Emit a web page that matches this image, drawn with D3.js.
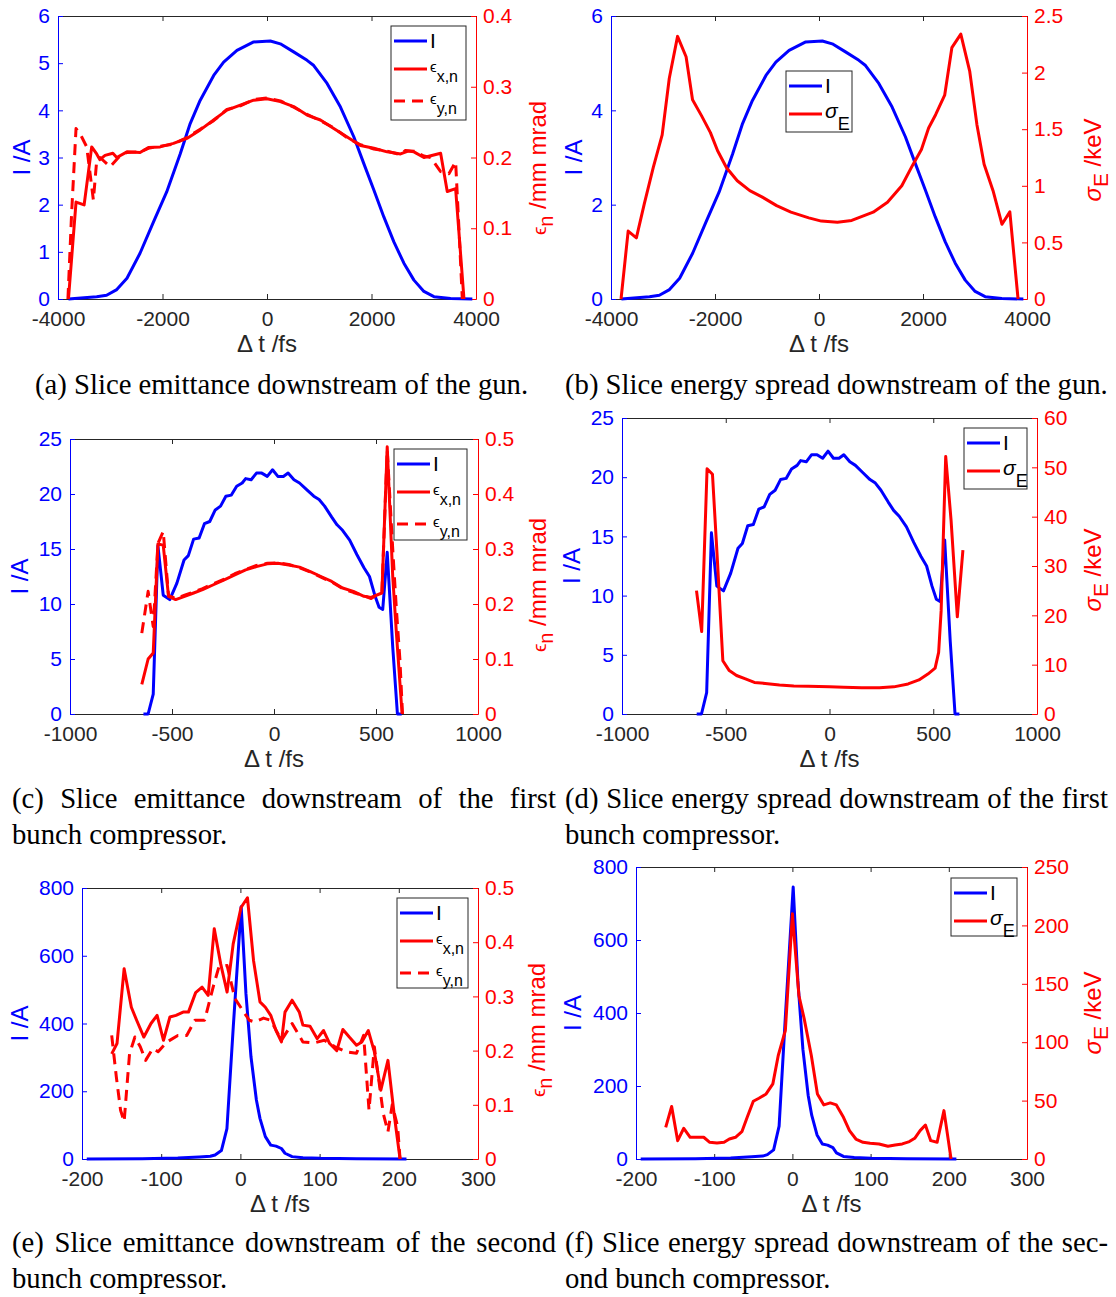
<!DOCTYPE html>
<html lang="en">
<head>
<meta charset="UTF-8">
<title>Slice emittance and energy spread</title>
<script src="https://cdn.jsdelivr.net/npm/d3@7"></script>
<style>
  body { margin: 0; background: #fff; }
  svg { display: block; }
  .ax text { font-family: "Liberation Sans", Arial, sans-serif; font-size: 21px; }
  .lab { font-family: "Liberation Sans", Arial, sans-serif; }
  .caption text { font-family: "Liberation Serif", "Times New Roman", serif; font-size: 28.7px; fill: #000; }
</style>
</head>
<body>
<svg width="1116" height="1297"></svg>
<script>
// ---- gun (panels a, b) ----
const gunT = [-3800,-3260,-3070,-2875,-2680,-2430,-2170,-1920,-1660,-1470,-1280,-1020,-830,-575,-255,64,255,510,767,895,1150,1406,1661,1853,2045,2236,2428,2620,2812,3003,3195,3514,3930];
const gunI = [0,0.05,0.08,0.2,0.44,0.97,1.64,2.27,3.08,3.72,4.21,4.74,5.02,5.27,5.45,5.47,5.41,5.24,5.06,4.95,4.57,4.07,3.44,2.87,2.31,1.74,1.21,0.76,0.4,0.16,0.05,0.01,0];

const gunEpsXT = [-3800,-3655,-3500,-3355,-3260,-3200,-3100,-2950,-2875,-2680,-2430,-2270,-2045,-1790,-1534,-1278,-1022,-767,-511,-256,0,256,511,767,1022,1278,1534,1789,2045,2300,2556,2700,2812,3003,3323,3450,3610,3770];
const gunEpsX  = [0,0.137,0.133,0.215,0.205,0.197,0.203,0.206,0.2,0.208,0.207,0.214,0.215,0.22,0.227,0.239,0.253,0.267,0.274,0.281,0.283,0.279,0.272,0.26,0.253,0.241,0.229,0.217,0.213,0.208,0.205,0.209,0.208,0.2,0.206,0.152,0.156,0];

const gunEpsYT = [-3810,-3740,-3655,-3546,-3450,-3323,-3259,-3195,-3003,-2843,-2684,-2430,-2270,-2045,-1790,-1534,-1278,-1022,-767,-511,-256,0,256,511,767,1022,1278,1534,1789,2045,2300,2556,2650,2812,3003,3131,3323,3482,3610,3680,3738];
const gunEpsY  = [0,0.12,0.241,0.229,0.215,0.14,0.196,0.2,0.187,0.2,0.207,0.208,0.213,0.216,0.219,0.228,0.24,0.252,0.268,0.273,0.282,0.284,0.28,0.271,0.261,0.252,0.242,0.228,0.218,0.212,0.209,0.204,0.21,0.209,0.202,0.2,0.18,0.177,0.194,0.09,0];

const gunSigT = [-3807,-3670,-3512,-3360,-3188,-3016,-2879,-2720,-2556,-2432,-2260,-2088,-1950,-1778,-1572,-1331,-1090,-815,-540,-196,45,354,629,1042,1317,1592,1798,1970,2108,2245,2417,2555,2727,2899,3037,3175,3347,3519,3670,3828];
const gunSig  = [0,0.6,0.54,0.84,1.16,1.45,1.95,2.32,2.14,1.76,1.62,1.47,1.31,1.16,1.045,0.957,0.9,0.825,0.767,0.717,0.688,0.679,0.694,0.767,0.855,1.0,1.18,1.32,1.51,1.63,1.8,2.22,2.34,2.01,1.54,1.19,0.957,0.66,0.77,0];

// ---- first bunch compressor (panels c, d) ----
const bc1T = [-640,-617,-592,-569,-543,-511,-476,-441,-420,-394,-367,-341,-315,-288,-262,-236,-209,-183,-156,-139,-112,-86,-60,-33,-7,19,46,69,98,125,160,195,221,248,283,309,336,371,406,441,468,494,515,533,555,582,605,626];
const bc1I = [0,0,1.8,15.3,10.8,10.4,11.9,14.0,14.4,15.9,16.0,17.3,17.5,18.55,18.9,19.8,19.9,20.7,21.0,21.4,21.3,21.9,21.9,21.6,22.2,21.6,21.6,21.9,21.3,21.0,20.4,19.8,19.5,18.9,17.9,17.2,16.7,15.8,14.5,13.3,12.5,10.8,9.7,9.5,14.7,6.1,0,0];

const bc1EpsXT = [-648,-617,-592,-569,-543,-517,-482,-438,-394,-350,-297,-244,-192,-139,-86,-33,19,72,125,178,230,283,336,389,441,476,529,555,582,600,628];
const bc1EpsX  = [0.054,0.10,0.111,0.309,0.307,0.214,0.208,0.214,0.22,0.226,0.235,0.244,0.253,0.262,0.268,0.273,0.274,0.271,0.267,0.259,0.25,0.241,0.229,0.223,0.214,0.212,0.22,0.486,0.25,0.147,0];

const bc1EpsYT = [-648,-617,-592,-569,-543,-517,-482,-438,-394,-350,-297,-244,-192,-139,-86,-33,19,72,125,178,230,283,336,389,441,476,529,555,582,600,617,630];
const bc1EpsY  = [0.147,0.223,0.159,0.31,0.332,0.215,0.21,0.216,0.222,0.228,0.237,0.245,0.255,0.263,0.27,0.274,0.275,0.272,0.266,0.258,0.249,0.24,0.228,0.221,0.215,0.21,0.222,0.48,0.3,0.19,0.1,0];

const bc1SigT = [-641,-616,-590,-564,-540,-514,-483,-448,-405,-362,-310,-241,-172,-103,0,69,155,241,310,379,431,474,509,526,538,560,586,616,643];
const bc1Sig  = [25,16.7,49.7,48.6,31,10.8,8.8,7.8,7.1,6.4,6.2,5.9,5.7,5.6,5.5,5.4,5.3,5.3,5.5,6.1,6.9,8.1,9.3,12.5,20.9,52.2,39.2,19.7,33.2];

// ---- second bunch compressor (panels e, f) ----
const bc2T = [-194,-124,-79,-52,-38,-32,-24,-17,-9,1,7,13.4,20.2,24.7,31.5,38.3,45,51.8,56.3,65.3,79,101,146.6,209.7];
const bc2I = [0,1,3,6,8,12,25,90,390,745,488,301,174,120,66,41,38,31,17,7,4,2,1,0];

const bc2EpsXT = [-162.5,-155.8,-146.8,-137.7,-131,-121.9,-112.9,-105.2,-97.1,-89,-81.3,-72.3,-65.6,-56.5,-48.4,-40.7,-33,-24.9,-16.8,-9.1,0.8,8.9,16.6,24.7,31.5,38.3,45,51.8,56.3,65.3,74.4,78.9,87.9,97,105,112.7,121.7,129.4,137.5,146.6,153.3,161.5,169.1,177.3,186.3,194,201.6];
const bc2EpsX  = [0.194,0.213,0.351,0.28,0.256,0.225,0.25,0.265,0.219,0.262,0.265,0.271,0.271,0.307,0.317,0.302,0.425,0.36,0.308,0.397,0.464,0.482,0.366,0.29,0.28,0.265,0.237,0.216,0.271,0.293,0.271,0.247,0.245,0.222,0.237,0.213,0.2,0.239,0.225,0.21,0.216,0.237,0.198,0.127,0.182,0.084,0];

const bc2EpsYT = [-162.5,-156.7,-151.3,-146.8,-140,-133.2,-126.4,-119.7,-110.6,-103.9,-92.6,-79,-67.8,-57.4,-45.2,-33.9,-27.2,-16.8,-6.9,11.2,18,29.2,38.3,51.8,65.3,78.9,92.4,106,119.5,133,146.6,155.6,162.4,169.1,180.4,186.3,191.7,198.5,201.6];
const bc2EpsY  = [0.228,0.152,0.09,0.069,0.194,0.225,0.207,0.182,0.204,0.198,0.216,0.228,0.228,0.256,0.256,0.32,0.354,0.357,0.296,0.256,0.253,0.26,0.256,0.219,0.25,0.216,0.214,0.219,0.207,0.198,0.195,0.228,0.09,0.207,0.084,0.05,0.1,0.06,0];

const bc2SigT = [-162,-154.4,-146.7,-138.9,-130.7,-121.6,-113.4,-105.7,-96.5,-87.4,-80.6,-72.8,-64.6,-57.8,-50,-42.8,-33.6,-25,-18.1,-9,0,8.3,15.1,24.2,32,40.2,48.4,56.2,65.3,73,81.2,90.3,99.4,110.8,122.2,131.4,140.5,149.6,156.4,163.3,170.1,176.9,185.1,193.8,202.9];
const bc2Sig  = [27,45,15.7,26.3,18.6,18.6,18.6,14.3,13.7,14.3,17.1,18.6,23.4,35.7,49.4,52,55.7,64.3,88.6,110,210,140,120,88.6,55.7,46.3,48,46.3,35.7,24.3,17.1,14.3,13.4,12.9,10.9,12,12.9,14.9,17.7,24.3,29.1,15.7,14.3,41.4,0];

// ---- tick labels ----
const ticksGunX = [-4000,-2000,0,2000,4000];
const ticksBc1X = [-1000,-500,0,500,1000];
const ticksBc2X = [-200,-100,0,100,200,300];
const ticksGunI = [0,1,2,3,4,5,6];
const ticksGunI2 = [0,2,4,6];
const ticksBc1I = [0,5,10,15,20,25];
const ticksBc2I = [0,200,400,600,800];
const ticksEps = [0,0.1,0.2,0.3,0.4,0.5];
const ticksEpsGun = [0,0.1,0.2,0.3,0.4];
const ticksSigGun = [0,0.5,1,1.5,2,2.5];
const ticksSigBc1 = [0,10,20,30,40,50,60];
const ticksSigBc2 = [0,50,100,150,200,250];

const captions = [
  { lines: ["(a) Slice emittance downstream of the gun."], x: 35, x2: null, y: 394 },
  { lines: ["(b) Slice energy spread downstream of the gun."], x: 565, x2: null, y: 394 },
  { lines: ["(c) Slice emittance downstream of the first", "bunch compressor."], x: 12, x2: 556, y: 808 },
  { lines: ["(d) Slice energy spread downstream of the first", "bunch compressor."], x: 565, x2: 1108, y: 808 },
  { lines: ["(e) Slice emittance downstream of the second", "bunch compressor."], x: 12, x2: 556, y: 1252 },
  { lines: ["(f) Slice energy spread downstream of the sec-", "ond bunch compressor."], x: 565, x2: 1108, y: 1252 }
];

const BLUE = "#0000ff", RED = "#ff0000", GRAY = "#262626";
const svg = d3.select("svg");

const zip = (t, v) => t.map((d, i) => [d, v[i]]);

// label pieces (text, size, shift, italic)
const labI = [["I /A", 24, 0]];
const labEps = [["\u03f5", 19, 0], ["n", 20, 7], [" /mm mrad", 24, -7]];
const labSig = [["\u03c3", 24, 0, true], ["E", 21, 7], [" /keV", 24, -7]];
const legI = [{ parts: [["I", 21, 7]], color: BLUE }];
const legEps = [
  { parts: [["\u03f5", 15, 3], ["x,n", 16, 10]], color: RED },
  { parts: [["\u03f5", 15, 3], ["y,n", 16, 10]], color: RED, dash: "11,7" }
];
const legSig = [{ parts: [["\u03c3", 21, 4, true], ["E", 18, 12]], color: RED }];

function addParts(text, parts) {
  parts.forEach(p => {
    text.append("tspan")
      .attr("font-size", p[1])
      .attr("dy", p[2])
      .attr("font-style", p[3] ? "italic" : null)
      .text(p[0]);
  });
}

const panels = [
  { box: [58, 16, 476, 299], xd: [-4000, 4000], xt: ticksGunX, yl: [0, 6], ylt: ticksGunI, yr: [0, 0.4], yrt: ticksEpsGun,
    left: [[gunT, gunI]], right: [[gunEpsXT, gunEpsX], [gunEpsYT, gunEpsY, "11,7"]], rlab: labEps,
    lx: 30, rx: 546, rcy: 168, leg: [391, 26, 75, 94], legItems: legI.concat(legEps) },
  { box: [611, 16, 1027, 299], xd: [-4000, 4000], xt: ticksGunX, yl: [0, 6], ylt: ticksGunI2, yr: [0, 2.5], yrt: ticksSigGun,
    left: [[gunT, gunI]], right: [[gunSigT, gunSig]], rlab: labSig,
    lx: 582, rx: 1101, rcy: 160, leg: [786, 71, 66, 61], legItems: legI.concat(legSig) },
  { box: [70, 439, 478, 714], xd: [-1000, 1000], xt: ticksBc1X, yl: [0, 25], ylt: ticksBc1I, yr: [0, 0.5], yrt: ticksEps,
    left: [[bc1T, bc1I]], right: [[bc1EpsXT, bc1EpsX], [bc1EpsYT, bc1EpsY, "11,7"]], rlab: labEps,
    lx: 28, rx: 546, rcy: 585, leg: [394, 449, 73, 91], legItems: legI.concat(legEps) },
  { box: [622, 418, 1037, 714], xd: [-1000, 1000], xt: ticksBc1X, yl: [0, 25], ylt: ticksBc1I, yr: [0, 60], yrt: ticksSigBc1,
    left: [[bc1T, bc1I]], right: [[bc1SigT, bc1Sig]], rlab: labSig,
    lx: 580, rx: 1101, rcy: 570, leg: [964, 428, 63, 61], legItems: legI.concat(legSig) },
  { box: [82, 888, 478, 1159], xd: [-200, 300], xt: ticksBc2X, yl: [0, 800], ylt: ticksBc2I, yr: [0, 0.5], yrt: ticksEps,
    left: [[bc2T, bc2I]], right: [[bc2EpsXT, bc2EpsX], [bc2EpsYT, bc2EpsY, "11,7"]], rlab: labEps,
    lx: 28, rx: 545, rcy: 1030, leg: [397, 898, 71, 90], legItems: legI.concat(legEps) },
  { box: [636, 867, 1027, 1159], xd: [-200, 300], xt: ticksBc2X, yl: [0, 800], ylt: ticksBc2I, yr: [0, 250], yrt: ticksSigBc2,
    left: [[bc2T, bc2I]], right: [[bc2SigT, bc2Sig]], rlab: labSig,
    lx: 581, rx: 1101, rcy: 1013, leg: [951, 878, 66, 58], legItems: legI.concat(legSig) }
];

function styleAxis(sel, color) {
  sel.attr("font-size", null).attr("font-family", null).attr("class", "ax");
  sel.select(".domain").attr("stroke", color).attr("stroke-width", 1);
  sel.selectAll(".tick line").attr("stroke", color);
  sel.selectAll(".tick text").attr("fill", color);
}

panels.forEach(p => {
  const [x0, y0, x1, y1] = p.box;
  const x = d3.scaleLinear().domain(p.xd).range([x0, x1]);
  const yL = d3.scaleLinear().domain(p.yl).range([y1, y0]);
  const yR = d3.scaleLinear().domain(p.yr).range([y1, y0]);
  const g = svg.append("g");
  const fmt = d => String(d);

  g.append("g").attr("transform", `translate(0,${y1})`)
    .call(d3.axisBottom(x).tickValues(p.xt).tickFormat(fmt).tickSizeInner(-5).tickSizeOuter(0).tickPadding(12))
    .call(s => styleAxis(s, GRAY));
  g.append("g").attr("transform", `translate(0,${y0})`)
    .call(d3.axisTop(x).tickValues(p.xt).tickFormat("").tickSizeInner(-5).tickSizeOuter(0))
    .call(s => styleAxis(s, GRAY));
  g.append("g").attr("transform", `translate(${x0},0)`)
    .call(d3.axisLeft(yL).tickValues(p.ylt).tickFormat(fmt).tickSizeInner(-5).tickSizeOuter(0).tickPadding(8))
    .call(s => styleAxis(s, BLUE));
  g.append("g").attr("transform", `translate(${x1},0)`)
    .call(d3.axisRight(yR).tickValues(p.yrt).tickFormat(fmt).tickSizeInner(-5).tickSizeOuter(0).tickPadding(7))
    .call(s => styleAxis(s, RED));

  const lineL = d3.line().x(d => x(d[0])).y(d => yL(d[1]));
  const lineR = d3.line().x(d => x(d[0])).y(d => yR(d[1]));
  p.left.forEach(s => {
    g.append("path").attr("d", lineL(zip(s[0], s[1])))
      .attr("fill", "none").attr("stroke", BLUE).attr("stroke-width", 3).attr("stroke-linejoin", "round");
  });
  p.right.forEach(s => {
    g.append("path").attr("d", lineR(zip(s[0], s[1])))
      .attr("fill", "none").attr("stroke", RED).attr("stroke-width", 3)
      .attr("stroke-linejoin", "round").attr("stroke-dasharray", s[2] || null);
  });

  // axis labels
  g.append("text").attr("class", "lab").attr("x", (x0 + x1) / 2).attr("y", y1 + 53)
    .attr("text-anchor", "middle").attr("font-size", 24).attr("fill", GRAY).text("\u0394 t /fs");
  const ll = g.append("text").attr("class", "lab").attr("fill", BLUE).attr("text-anchor", "middle")
    .attr("transform", `translate(${p.lx},${(y0 + y1) / 2}) rotate(-90)`);
  addParts(ll, labI);
  const rl = g.append("text").attr("class", "lab").attr("fill", RED).attr("text-anchor", "middle")
    .attr("transform", `translate(${p.rx},${p.rcy}) rotate(-90)`);
  addParts(rl, p.rlab);

  // legend
  const [lx, ly, lw, lh] = p.leg;
  const lg = g.append("g");
  lg.append("rect").attr("x", lx).attr("y", ly).attr("width", lw).attr("height", lh)
    .attr("fill", "#fff").attr("stroke", GRAY).attr("stroke-width", 1);
  const rows = [15, 43, 75];
  p.legItems.forEach((it, i) => {
    const cy = ly + rows[i];
    lg.append("line").attr("x1", lx + 3).attr("x2", lx + 36).attr("y1", cy).attr("y2", cy)
      .attr("stroke", it.color).attr("stroke-width", 3).attr("stroke-dasharray", it.dash || null);
    const t = lg.append("text").attr("class", "lab").attr("x", lx + 39).attr("y", cy).attr("fill", "#000");
    addParts(t, it.parts);
  });
});

// captions
captions.forEach(c => {
  const cg = svg.append("g").attr("class", "caption");
  c.lines.forEach((ln, li) => {
    const yb = c.y + li * 35.5;
    const last = li === c.lines.length - 1;
    if (c.x2 === null || last) {
      cg.append("text").attr("x", c.x).attr("y", yb).text(ln);
      return;
    }
    const words = ln.split(" ");
    const nodes = words.map(w => cg.append("text").attr("y", yb).text(w));
    const widths = nodes.map(n => n.node().getComputedTextLength());
    const gap = (c.x2 - c.x - d3.sum(widths)) / (words.length - 1);
    let cx = c.x;
    nodes.forEach((n, i) => { n.attr("x", cx); cx += widths[i] + gap; });
  });
});
</script>
</body>
</html>
